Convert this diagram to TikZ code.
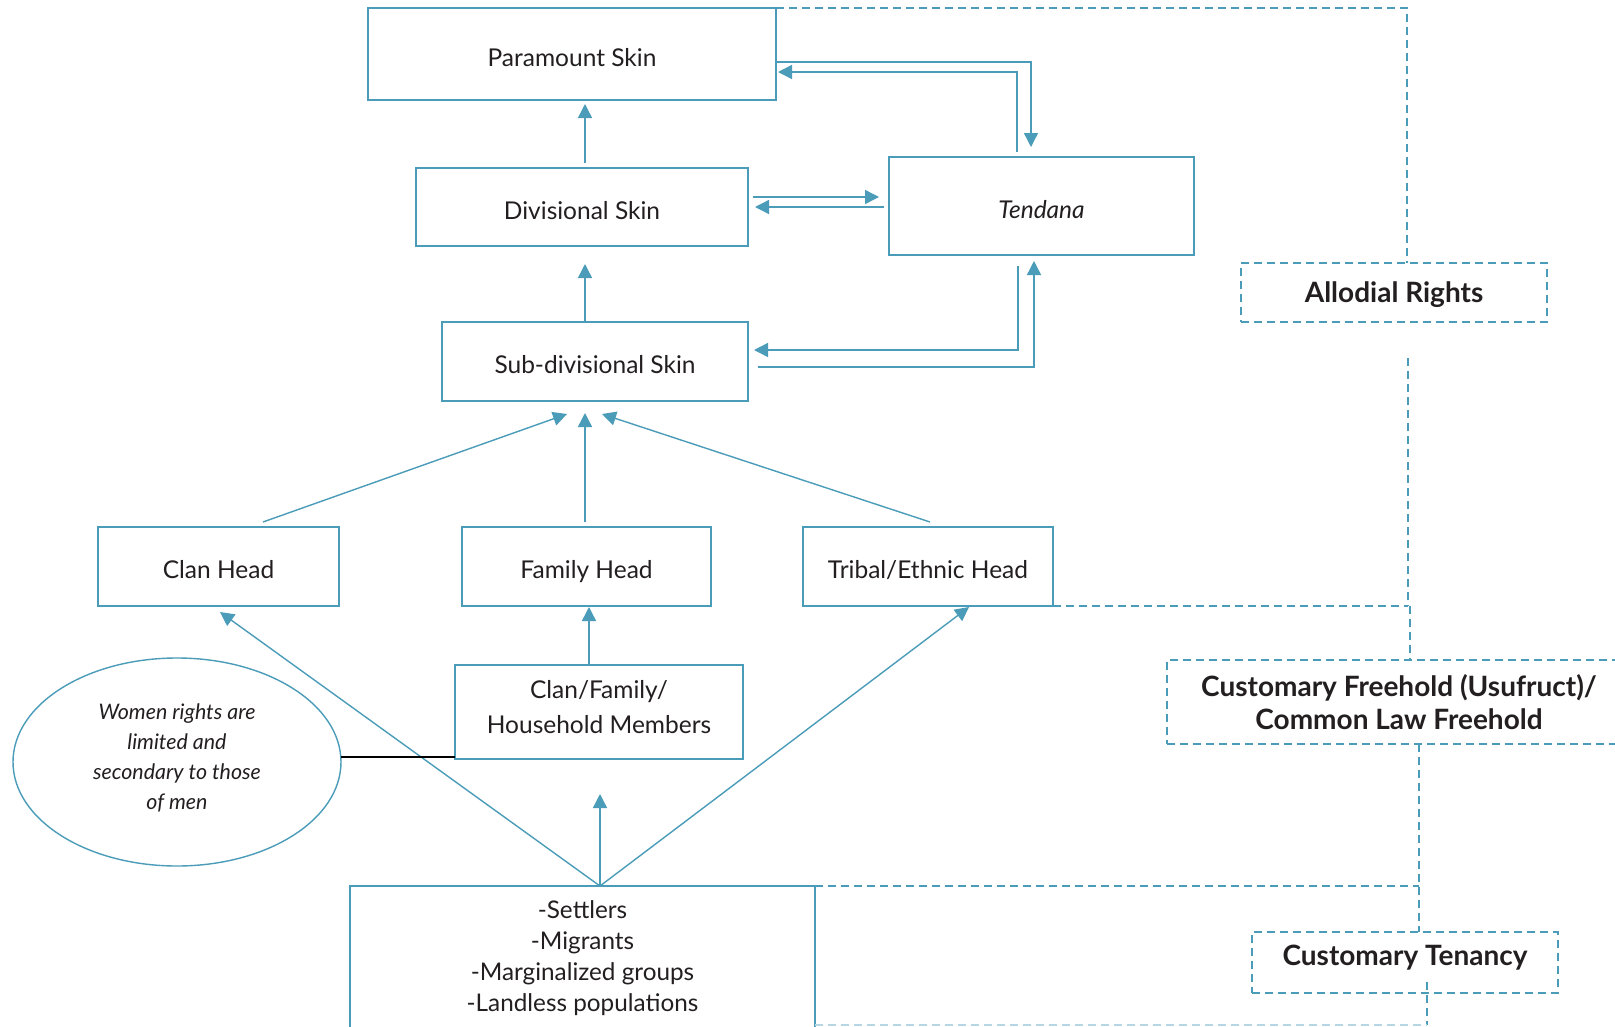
\documentclass[tikz,border=0pt]{standalone}
\usepackage{fontspec}
\setmainfont{Lato}
\usetikzlibrary{arrows.meta,shapes.geometric}
\definecolor{lineblue}{HTML}{4A9CB9}
\definecolor{faintblue}{HTML}{B5D6E2}
\definecolor{txt}{HTML}{231F20}
\tikzset{
  box/.style={draw=lineblue, line width=1.4pt, inner sep=0pt, outer sep=0pt, align=center, text=txt, font=\fontsize{24.5}{34}\selectfont},
  oneline/.style={text height=24pt, text depth=0pt},
  flat/.style={text height=0pt, text depth=0pt},
  dbox/.style={draw=lineblue, line width=1.4pt, dash pattern=on 8pt off 5pt, inner sep=0pt, outer sep=0pt, align=center, text=txt, font=\bfseries\fontsize{28}{33}\selectfont},
  arr/.style={draw=lineblue, line width=1.4pt, -{Triangle[length=14pt,width=14pt]}},
  dconn/.style={draw=lineblue, line width=1.4pt, dash pattern=on 8pt off 5pt},
}
\begin{document}
\begin{tikzpicture}[x=1pt,y=-1pt]
\clip (0,0) rectangle (1615,1026);
\fill[white] (0,0) rectangle (1615,1026);
% nodes
\node[box, oneline, minimum width=408pt, minimum height=92pt] (par) at (572,54) {Paramount Skin};
\node[box, oneline, minimum width=332pt, minimum height=78pt] (div) at (582,207) {Divisional Skin};
\node[box, oneline, minimum width=305pt, minimum height=98pt] (ten) at (1041.5,206) {\itshape Tendana};
\node[box, oneline, minimum width=306pt, minimum height=79pt] (sub) at (595,361.5) {Sub-divisional Skin};
\node[box, oneline, minimum width=241pt, minimum height=79pt] (clan) at (218.5,566.5) {Clan Head};
\node[box, oneline, minimum width=249pt, minimum height=79pt] (fam) at (586.5,566.5) {Family Head};
\node[box, oneline, minimum width=250pt, minimum height=79pt] (trib) at (928,566.5) {Tribal/Ethnic Head};
\node[box, flat, minimum width=288pt, minimum height=94pt] (mem) at (599,712) {\raisebox{-3pt}{\begin{tabular}{@{}c@{}}Clan/Family/\\[1pt]Household Members\end{tabular}}};
\node[box, flat, ellipse, minimum width=328pt, minimum height=208pt, font=\itshape\fontsize{21.4}{30}\selectfont] (ell) at (177,762) {\raisebox{-2pt}{\begin{tabular}{@{}c@{}}Women rights are\\limited and\\secondary to those\\of men\end{tabular}}};
\node[box, minimum width=465pt, minimum height=144pt, font=\fontsize{24.3}{31}\selectfont] (bot) at (582.5,958) {-Settlers\\-Migrants\\-Marginalized groups\\-Landless populations};
\node[dbox, text height=20.5pt, text depth=0pt, minimum width=306pt, minimum height=59pt] (allo) at (1394,292.5) {Allodial Rights};
\node[dbox, minimum width=464pt, minimum height=84pt] (cf) at (1399,702) {Customary Freehold (Usufruct)/\\Common Law Freehold};
\node[dbox, text height=20.5pt, text depth=0pt, minimum width=306pt, minimum height=61pt] (ct) at (1405,962.5) {\raisebox{7.5pt}{Customary Tenancy}};
% coordinates
\coordinate (a1) at (1408,358);
\coordinate (j1) at (1408,606);
\coordinate (j2) at (1419,886);
\coordinate (j3) at (1427,1025);
\coordinate (o) at ([xshift=17.5pt]bot.north);
\coordinate (up) at ([xshift=1pt,yshift=-35pt]mem.south);
% dashed connectors
\draw[dconn] (par.north east) -| ([xshift=13pt]allo.north);
\draw[dconn] (a1) -- (j1);
\draw[dconn] (trib.south east) -- (j1);
\draw[dconn] ([xshift=2pt]j1) -- ([xshift=11pt]cf.north);
\draw[dconn] ([xshift=20pt]cf.south) -- (j2) -- ([xshift=14pt]ct.north);
\draw[dconn] (bot.north east) -- (j2);
\draw[dconn] ([xshift=22pt,yshift=11pt]ct.south) -- (j3);
\draw[draw=faintblue, line width=1.4pt, dash pattern=on 8pt off 5pt] (bot.east |- j3) -- (j3);
% solid arrows
\draw[arr] ([xshift=3pt,yshift=5pt]div.north) -- ([xshift=13pt,yshift=-4pt]par.south);
\draw[arr] ([xshift=-10pt,yshift=1pt]sub.north) -- ([xshift=3pt,yshift=-18pt]div.south);
\draw[arr] ([yshift=-8pt]par.east) -| ([xshift=-10.5pt,yshift=10pt]ten.north);
\draw[arr] ([xshift=-24.5pt,yshift=5pt]ten.north) |- ([xshift=2pt,yshift=-18pt]par.east);
\draw[arr] ([xshift=5pt,yshift=10pt]div.east) -- ([xshift=-10pt,yshift=9pt]ten.west);
\draw[arr] ([xshift=-5pt,yshift=-1pt]ten.west) -- ([xshift=7pt]div.east);
\draw[arr] ([xshift=-23.5pt,yshift=-11pt]ten.south) |- ([xshift=6pt,yshift=11.5pt]sub.east);
\draw[arr] ([xshift=10pt,yshift=-5.5pt]sub.east) -| ([xshift=-7.5pt,yshift=-6pt]ten.south);
\draw[arr] ([xshift=44.5pt,yshift=5pt]clan.north) -- ([xshift=-28pt,yshift=-13pt]sub.south);
\draw[arr] ([xshift=-1.5pt,yshift=5pt]fam.north) -- ([xshift=-10pt,yshift=-12pt]sub.south);
\draw[arr] ([xshift=2pt,yshift=5pt]trib.north) -- ([xshift=7pt,yshift=-13pt]sub.south);
\draw[arr] ([xshift=-10pt]mem.north) -- ([xshift=2.5pt,yshift=-1pt]fam.south);
\draw[arr] (o) -- ([xshift=1.5pt,yshift=-6pt]clan.south);
\draw[arr] (o) -- (up);
\draw[arr] (o) -- ([xshift=41pt,yshift=-1pt]trib.south);
\draw[line width=1.4pt, black] ([yshift=5pt]ell.east) -- ([yshift=2pt]mem.south west);
\end{tikzpicture}
\end{document}
